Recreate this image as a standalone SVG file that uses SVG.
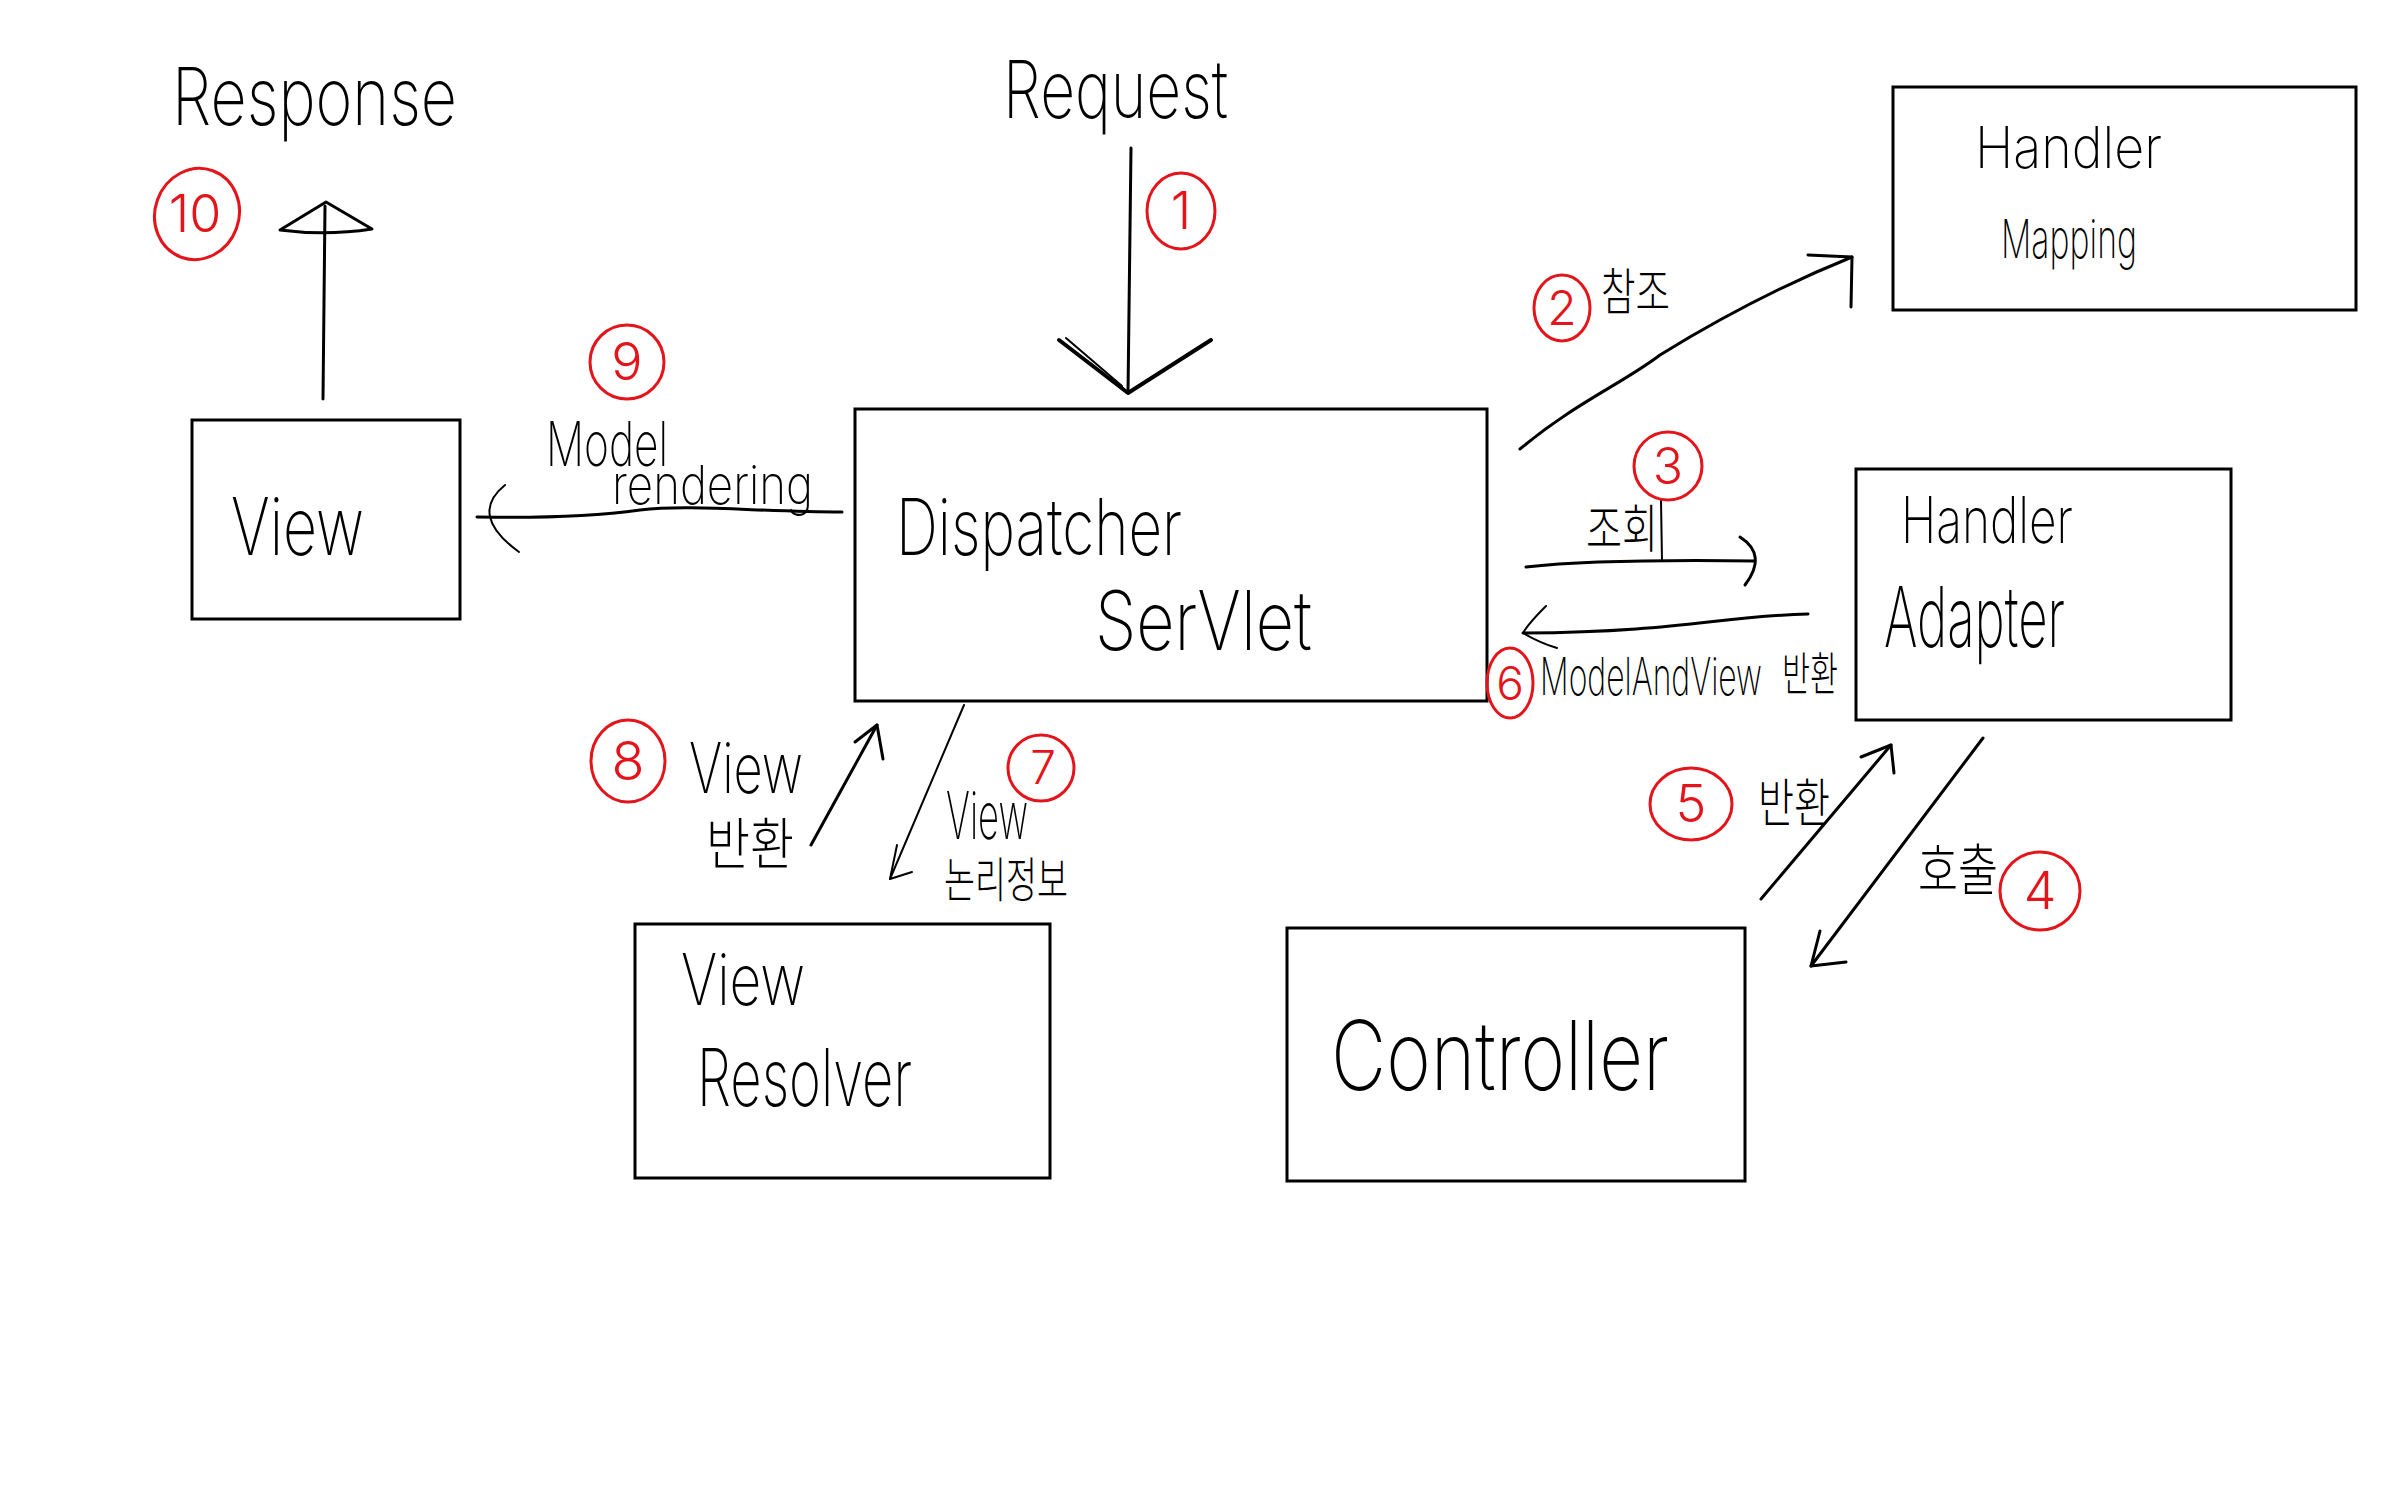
<svg xmlns="http://www.w3.org/2000/svg" width="2386" height="1491" viewBox="0 0 2386 1491">
<style>
.bg{fill:#fff}
.box{fill:none;stroke:#000;stroke-width:3}
.t{font-family:"Inter","Noto Sans CJK KR",sans-serif;font-weight:200;fill:#000}
.k{font-family:"Noto Sans CJK KR",sans-serif;font-weight:300;fill:#000}
.conn{fill:none;stroke:#000;stroke-width:3;stroke-linecap:round;stroke-linejoin:round}
.badge{fill:none;stroke:#e3151b;stroke-width:3}
.bt{font-family:"Inter","Noto Sans",sans-serif;font-weight:300;fill:#e3151b;text-anchor:middle}
</style>
<rect class="bg" x="0" y="0" width="2386" height="1491"/>

<g id="node-view">
<rect class="box" x="192" y="420" width="268" height="199"/>
<text class="t" x="231" y="555" font-size="80" textLength="133" lengthAdjust="spacingAndGlyphs">View</text>
</g>
<g id="node-dispatcher-servlet">
<rect class="box" x="855" y="409" width="632" height="292"/>
<text class="t" x="896" y="555" font-size="78" textLength="286" lengthAdjust="spacingAndGlyphs">Dispatcher</text>
<text class="t" x="1095" y="650" font-size="82" textLength="217" lengthAdjust="spacingAndGlyphs">SerVlet</text>
</g>
<g id="node-handler-mapping">
<rect class="box" x="1893" y="87" width="463" height="223"/>
<text class="t" x="1975" y="168" font-size="58" textLength="187" lengthAdjust="spacingAndGlyphs">Handler</text>
<text class="t" x="2001" y="258" font-size="54" textLength="136" lengthAdjust="spacingAndGlyphs">Mapping</text>
</g>
<g id="node-handler-adapter">
<rect class="box" x="1856" y="469" width="375" height="251"/>
<text class="t" x="1901" y="543" font-size="64" textLength="172" lengthAdjust="spacingAndGlyphs">Handler</text>
<text class="t" x="1884" y="647" font-size="84" textLength="181" lengthAdjust="spacingAndGlyphs">Adapter</text>
</g>
<g id="node-view-resolver">
<rect class="box" x="635" y="924" width="415" height="254"/>
<text class="t" x="681" y="1005" font-size="72" textLength="124" lengthAdjust="spacingAndGlyphs">View</text>
<text class="t" x="697" y="1106" font-size="80" textLength="215" lengthAdjust="spacingAndGlyphs">Resolver</text>
</g>
<g id="node-controller">
<rect class="box" x="1287" y="928" width="458" height="253"/>
<text class="t" x="1331" y="1090" font-size="96" textLength="338" lengthAdjust="spacingAndGlyphs">Controller</text>
</g>

<g id="connectors">
<!-- Response -->
<path class="conn" d="M323,399 L325,206"/>
<path class="conn" d="M326,202 L280,230 Q326,236 372,229 Z" fill="#fff"/>
<!-- Request -->
<path class="conn" d="M1131,148 L1128,393"/>
<path class="conn" style="stroke-width:4" d="M1059,340 L1128,393 L1211,340"/>
<path class="conn" style="stroke-width:2" d="M1066,338 L1122,386"/>
<!-- 2 -->
<path class="conn" d="M1520,449 C1575,403 1625,382 1660,355 C1720,318 1790,282 1852,257"/>
<path class="conn" d="M1808,255 L1852,257 L1851,307"/>
<!-- 3 -->
<path class="conn" d="M1526,567 Q1600,559 1755,561"/>
<path class="conn" d="M1740,537 Q1768,555 1745,585"/>
<path class="conn" style="stroke-width:2" d="M1661,500 L1662,561"/>
<!-- 6 -->
<path class="conn" d="M1808,614 C1720,616 1680,632 1523,633"/>
<path class="conn" style="stroke-width:2" d="M1546,606 Q1528,624 1523,633 Q1540,643 1557,648"/>
<!-- 9 -->
<path class="conn" d="M842,512 C760,512 690,504 640,510 C590,517 530,518 477,517"/>
<path class="conn" style="stroke-width:2" d="M505,485 Q468,515 519,552"/>
<!-- 8 -->
<path class="conn" d="M811,845 L877,725"/>
<path class="conn" d="M855,742 L877,725 L883,759"/>
<!-- 7 -->
<path class="conn" style="stroke-width:2" d="M964,705 L890,879"/>
<path class="conn" style="stroke-width:2" d="M897,845 L890,879 L912,872"/>
<!-- 5 -->
<path class="conn" d="M1761,899 L1891,745"/>
<path class="conn" d="M1861,757 L1891,745 L1894,773"/>
<!-- 4 -->
<path class="conn" d="M1983,738 L1811,966"/>
<path class="conn" d="M1820,931 L1811,966 L1846,962"/>
</g>

<g id="labels">
<text class="t" x="172" y="125" font-size="80" textLength="285" lengthAdjust="spacingAndGlyphs">Response</text>
<text class="t" x="1003" y="118" font-size="80" textLength="225" lengthAdjust="spacingAndGlyphs">Request</text>
<text class="t" x="546" y="466" font-size="62" textLength="122" lengthAdjust="spacingAndGlyphs">Model</text>
<text class="t" x="612" y="504" font-size="54" textLength="201" lengthAdjust="spacingAndGlyphs">rendering</text>
<text class="k" x="1601" y="310" font-size="50" textLength="69" lengthAdjust="spacingAndGlyphs">참조</text>
<text class="k" x="1586" y="548" font-size="52" textLength="72" lengthAdjust="spacingAndGlyphs">조회</text>
<text class="t" x="1540" y="695" font-size="52" textLength="222" lengthAdjust="spacingAndGlyphs">ModelAndView</text>
<text class="k" x="1782" y="690" font-size="46" textLength="56" lengthAdjust="spacingAndGlyphs">반환</text>
<text class="k" x="1758" y="822" font-size="52" textLength="72" lengthAdjust="spacingAndGlyphs">반환</text>
<text class="k" x="1918" y="890" font-size="56" textLength="80" lengthAdjust="spacingAndGlyphs">호출</text>
<text class="t" x="689" y="793" font-size="70" textLength="114" lengthAdjust="spacingAndGlyphs">View</text>
<text class="k" x="706" y="864" font-size="56" textLength="88" lengthAdjust="spacingAndGlyphs">반환</text>
<text class="t" x="946" y="839" font-size="66" textLength="82" lengthAdjust="spacingAndGlyphs">View</text>
<text class="k" x="944" y="897" font-size="48" textLength="124" lengthAdjust="spacingAndGlyphs">논리정보</text>
</g>

<g id="step-badges">
<ellipse class="badge" cx="197" cy="214" rx="42" ry="46" transform="rotate(20 197 214)"/>
<text class="bt" x="195" y="232" font-size="52">10</text>
<ellipse class="badge" cx="1181" cy="211" rx="34" ry="38"/>
<text class="bt" x="1181" y="229" font-size="52">1</text>
<ellipse class="badge" cx="1562" cy="308" rx="28" ry="33"/>
<text class="bt" x="1562" y="325" font-size="48">2</text>
<ellipse class="badge" cx="1668" cy="466" rx="34" ry="34"/>
<text class="bt" x="1668" y="484" font-size="50">3</text>
<ellipse class="badge" cx="2040" cy="891" rx="40" ry="39"/>
<text class="bt" x="2040" y="909" font-size="52">4</text>
<ellipse class="badge" cx="1691" cy="804" rx="41" ry="36"/>
<text class="bt" x="1691" y="822" font-size="52">5</text>
<ellipse class="badge" cx="1510" cy="683" rx="23" ry="35"/>
<text class="bt" x="1510" y="700" font-size="46">6</text>
<ellipse class="badge" cx="1041" cy="768" rx="33" ry="33"/>
<text class="bt" x="1043" y="784" font-size="46">7</text>
<ellipse class="badge" cx="628" cy="761" rx="37" ry="41"/>
<text class="bt" x="628" y="780" font-size="54">8</text>
<ellipse class="badge" cx="627" cy="362" rx="37" ry="37"/>
<text class="bt" x="627" y="380" font-size="52">9</text>
</g>
</svg>
